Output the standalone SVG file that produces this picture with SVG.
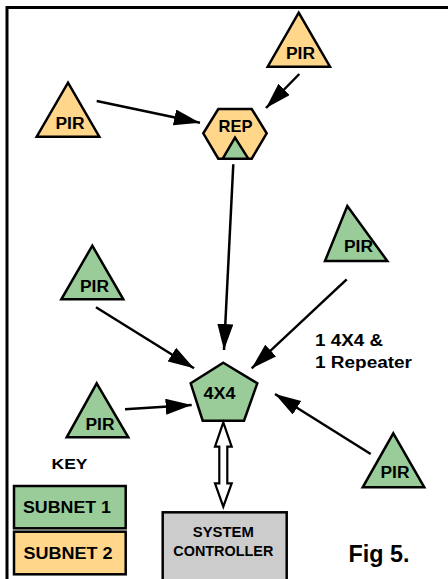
<svg xmlns="http://www.w3.org/2000/svg" width="448" height="579" viewBox="0 0 448 579">
<defs>
<marker id="ah" markerUnits="userSpaceOnUse" markerWidth="27" markerHeight="17" refX="26" refY="8" orient="auto">
<path d="M0,0 L26,8 L0,16 z" fill="#000"/>
</marker>
</defs>
<style>
.t{font-family:"Liberation Sans",Arial,sans-serif;font-weight:bold;fill:#000;text-anchor:middle}
.o{fill:#ffd68a;stroke:#000;stroke-width:2.5;stroke-linejoin:miter}
.g{fill:#99cc99;stroke:#000;stroke-width:2.5}
.c{stroke:#000;stroke-width:2.5;fill:none;marker-end:url(#ah)}
</style>
<rect width="448" height="579" fill="#fff"/>
<path d="M7,585 V7.5 H452" fill="none" stroke="#000" stroke-width="3"/>

<g id="pir-o1">
<polygon class="o" points="298.7,12.7 330,66.7 267.7,66.7"/>
<text class="t" x="300.5" y="58.5" font-size="16" textLength="29" lengthAdjust="spacingAndGlyphs">PIR</text>
</g>
<g id="pir-o2">
<polygon class="o" points="68,82.7 99.3,136.7 36.7,136.7"/>
<text class="t" x="70" y="128.5" font-size="16" textLength="29" lengthAdjust="spacingAndGlyphs">PIR</text>
</g>
<g id="rep">
<polygon class="o" points="218.3,109 251.7,109 266.7,133.3 251.7,158.7 218.3,158.7 203.3,133.3"/>
<text class="t" x="235.5" y="132" font-size="17" textLength="34" lengthAdjust="spacingAndGlyphs">REP</text>
<polygon class="g" points="235,137.7 248.3,158.7 222.7,158.7"/>
</g>
<g id="pir-g1">
<polygon class="g" points="347.3,206 387.3,261 325,261"/>
<text class="t" x="358.5" y="252" font-size="16" textLength="29" lengthAdjust="spacingAndGlyphs">PIR</text>
</g>
<g id="pir-g2">
<polygon class="g" points="92.3,245.7 123.3,299.3 61.3,299.3"/>
<text class="t" x="94.5" y="291.5" font-size="16" textLength="29" lengthAdjust="spacingAndGlyphs">PIR</text>
</g>
<g id="hub">
<polygon class="g" points="223.3,362.7 257.3,383.3 244,420.7 202.7,420.7 190.7,383.3"/>
<text class="t" x="219.5" y="399" font-size="16" textLength="32" lengthAdjust="spacingAndGlyphs">4X4</text>
</g>
<g id="pir-g3">
<polygon class="g" points="96.7,383.3 128.3,437.3 66.7,437.3"/>
<text class="t" x="100" y="429.5" font-size="16" textLength="29" lengthAdjust="spacingAndGlyphs">PIR</text>
</g>
<g id="pir-g4">
<polygon class="g" points="393.3,433.3 424.3,487.3 362.7,487.3"/>
<text class="t" x="395" y="477.5" font-size="16" textLength="29" lengthAdjust="spacingAndGlyphs">PIR</text>
</g>
<g id="controller">
<rect x="162.7" y="512.3" width="124" height="80" fill="#cccccc" stroke="#000" stroke-width="2.5"/>
<text class="t" x="223.3" y="537" font-size="14" textLength="61" lengthAdjust="spacingAndGlyphs">SYSTEM</text>
<text class="t" x="223.3" y="555.5" font-size="14" textLength="100" lengthAdjust="spacingAndGlyphs">CONTROLLER</text>
</g>
<g id="key">
<text class="t" x="69.5" y="468.5" font-size="15" textLength="36" lengthAdjust="spacingAndGlyphs">KEY</text>
<rect x="14" y="486" width="111.7" height="42.3" fill="#99cc99" stroke="#000" stroke-width="2.5"/>
<text class="t" x="67" y="512.5" font-size="16.5" textLength="88" lengthAdjust="spacingAndGlyphs">SUBNET 1</text>
<rect x="14" y="531.7" width="111.7" height="42.6" fill="#ffd68a" stroke="#000" stroke-width="2.5"/>
<text class="t" x="68" y="558.5" font-size="16.5" textLength="89" lengthAdjust="spacingAndGlyphs">SUBNET 2</text>
</g>
<g id="labels">
<text class="t" x="315" y="345.5" font-size="16" style="text-anchor:start" textLength="68" lengthAdjust="spacingAndGlyphs">1 4X4 &amp;</text>
<text class="t" x="315" y="367.5" font-size="16" style="text-anchor:start" textLength="97" lengthAdjust="spacingAndGlyphs">1 Repeater</text>
<text class="t" x="348.5" y="561.5" font-size="23" style="text-anchor:start" textLength="61" lengthAdjust="spacingAndGlyphs">Fig 5.</text>
</g>
<g id="connectors">
<line class="c" x1="96.7" y1="101" x2="200" y2="122.7"/>
<line class="c" x1="299.3" y1="74" x2="266" y2="108"/>
<line class="c" x1="233.3" y1="164.3" x2="224" y2="350"/>
<line class="c" x1="96" y1="307.3" x2="194" y2="368.3"/>
<line class="c" x1="346.7" y1="279.3" x2="251.7" y2="368.3"/>
<line class="c" x1="125" y1="409.3" x2="191.7" y2="405"/>
<line class="c" x1="370.7" y1="454" x2="275" y2="394"/>
<polygon points="223.3,422.3 231.7,446.7 227.3,446.7 227.3,483.3 231.7,483.3 223.3,506.7 215,483.3 219.3,483.3 219.3,446.7 215,446.7" fill="#fff" stroke="#000" stroke-width="2.2"/>
</g>
</svg>
